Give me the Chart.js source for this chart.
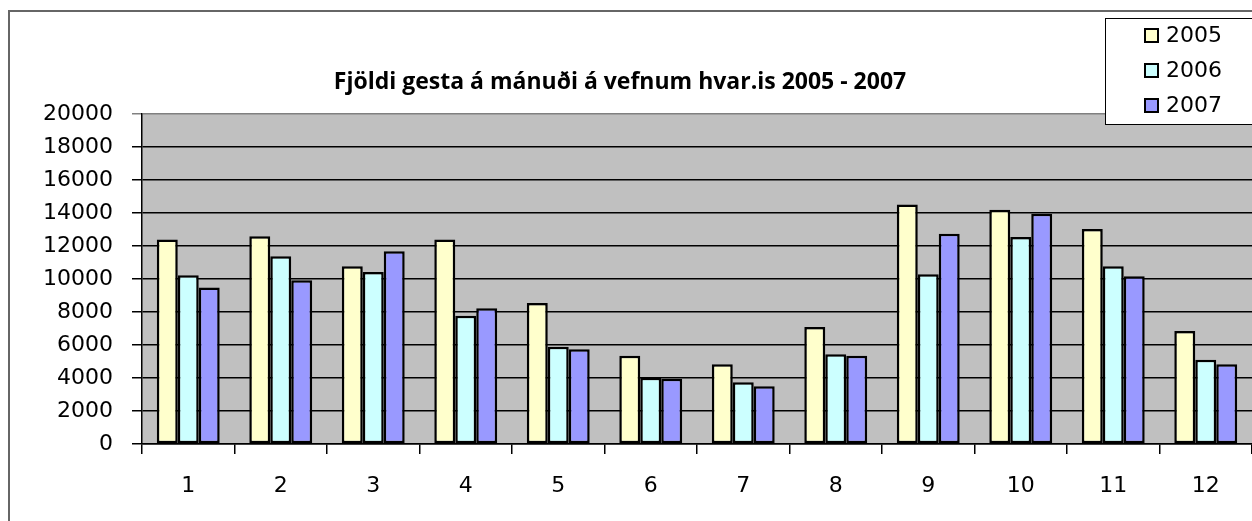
<!DOCTYPE html>
<html>
<head>
<meta charset="utf-8">
<script src="https://cdn.jsdelivr.net/npm/chart.js@4/dist/chart.umd.min.js"></script>
<style>
  body { margin: 0; background: #fff; }
  canvas { display: block; }
</style>
</head>
<body>
<canvas id="chart" width="1252" height="521"></canvas>
<script>
// data
const months = ["1", "2", "3", "4", "5", "6", "7", "8", "9", "10", "11", "12"];
const years = ["2005", "2006", "2007"];
const visits2005 = [12400, 12590, 10770, 12400, 8540, 5350, 4830, 7090, 14520, 14200, 13030, 6850];
const visits2006 = [10230, 11380, 10430, 7770, 5900, 4020, 3750, 5440, 10290, 12540, 10770, 5100];
const visits2007 = [9490, 9930, 11680, 8220, 5740, 3950, 3500, 5350, 12750, 13960, 10170, 4830];
const yTicks = [0, 2000, 4000, 6000, 8000, 10000, 12000, 14000, 16000, 18000, 20000];

const colors = ["#FFFFCC", "#CCFFFF", "#9999FF"];
const titleText = "Fjöldi gesta á mánuði á vefnum hvar.is 2005 - 2007";
const tickFont = { family: "DejaVu Sans", size: 22 };

// grey plot area + outer frame
const backdrop = {
  id: "backdrop",
  beforeDraw(chart) {
    const { ctx, chartArea: a } = chart;
    ctx.save();
    ctx.fillStyle = "#C0C0C0";
    ctx.fillRect(a.left, a.top, a.right - a.left, a.bottom - a.top);
    ctx.strokeStyle = "#666";
    ctx.lineWidth = 2;
    ctx.beginPath();
    ctx.moveTo(9, 521);
    ctx.lineTo(9, 11);
    ctx.lineTo(1252, 11);
    ctx.stroke();
    ctx.restore();
  },
};

// title and legend box drawn on top
const overlay = {
  id: "overlay",
  afterDraw(chart) {
    const ctx = chart.ctx;
    ctx.save();
    ctx.fillStyle = "#000";
    ctx.font = "bold 23px 'Open Sans'";
    ctx.textAlign = "center";
    ctx.textBaseline = "alphabetic";
    ctx.fillText(titleText, 620, 89);

    // legend
    ctx.fillStyle = "#fff";
    ctx.fillRect(1106, 18, 160, 107);
    ctx.strokeStyle = "#000";
    ctx.lineWidth = 1;
    ctx.strokeRect(1105.5, 18.5, 160, 106);
    ctx.font = "22px DejaVu Sans";
    ctx.textAlign = "left";
    ctx.textBaseline = "middle";
    chart.data.datasets.forEach((ds, i) => {
      const cy = 36 + i * 35;
      ctx.fillStyle = ds.backgroundColor;
      ctx.fillRect(1145, cy - 7, 13, 13);
      ctx.lineWidth = 2;
      ctx.strokeRect(1145, cy - 7, 13, 13);
      ctx.fillStyle = "#000";
      ctx.fillText(ds.label, 1166, cy);
    });
    ctx.restore();
  },
};

const series = [visits2005, visits2006, visits2007];

new Chart(document.getElementById("chart"), {
  type: "bar",
  data: {
    labels: months,
    datasets: years.map((y, i) => ({
      label: y,
      data: series[i],
      backgroundColor: colors[i],
      borderColor: "#000",
      borderWidth: 2.5,
      borderSkipped: false,
      categoryPercentage: 0.68,
      barPercentage: 1.0,
    })),
  },
  options: {
    responsive: false,
    animation: false,
    devicePixelRatio: 1,
    layout: { padding: { top: 114, left: 0, right: 0, bottom: 0 } },
    plugins: {
      legend: { display: false },
      title: { display: false },
      tooltip: { enabled: false },
    },
    scales: {
      x: {
        offset: true,
        afterFit(scale) {
          scale.height = 77;
        },
        grid: {
          offset: true,
          drawOnChartArea: false,
          drawTicks: true,
          tickLength: 10,
          color: "#000",
          lineWidth: 1.5,
        },
        border: { color: "#000", width: 1.5 },
        ticks: { color: "#000", font: tickFont, padding: 19 },
      },
      y: {
        min: 0,
        max: 20000,
        afterFit(scale) {
          scale.width = 142;
        },
        afterBuildTicks(scale) {
          scale.ticks = yTicks.map((v) => ({ value: v }));
        },
        grid: {
          color: (c) => (c.tick && c.tick.value === 20000 ? "#808080" : "#000"),
          lineWidth: 1.5,
          tickLength: 10,
        },
        border: { color: "#000", width: 1.5 },
        ticks: {
          color: "#000",
          font: tickFont,
          padding: 19,
          callback: (v) => String(v),
        },
      },
    },
  },
  plugins: [backdrop, overlay],
});
</script>
</body>
</html>
